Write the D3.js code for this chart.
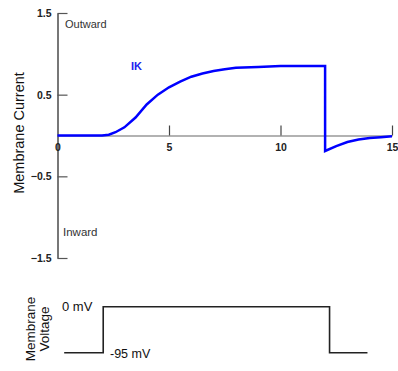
<!DOCTYPE html>
<html>
<head>
<meta charset="utf-8">
<script src="https://cdn.jsdelivr.net/npm/d3@7"></script>
<style>
  body { margin: 0; background: #fff; }
  svg { font-family: Arial, "Liberation Sans", sans-serif; }
  .tick text { font-weight: bold; font-size: 10.5px; fill: #222; }
</style>
</head>
<body>
<div id="chart"></div>
<script>
// current trace (IK) : time in ms, relative current
const timeK = [0, 2.0, 2.3, 2.6, 3.0, 3.5, 4.0, 4.5, 5.0, 5.5, 6.0, 6.5, 7.0, 7.5, 8.0, 9.0, 10.0, 11.0, 12.0,
  12.0, 12.5, 13.0, 13.5, 14.0, 14.5, 15.0];
const currentK = [0, 0, 0.01, 0.04, 0.10, 0.22, 0.38, 0.50, 0.59, 0.66, 0.72, 0.76, 0.79, 0.81, 0.83, 0.84, 0.85, 0.85, 0.85,
  -0.19, -0.13, -0.08, -0.05, -0.03, -0.02, -0.01];

// voltage protocol
const timeV = [0.3, 2.05, 2.05, 12.2, 12.2, 13.9];
const voltage = [-95, -95, 0, 0, -95, -95];

const xTicks = [0, 5, 10, 15];
const yTicks = [1.5, 0.5, -0.5, -1.5];

const W = 398, H = 371;
const svg = d3.select('#chart').append('svg')
  .attr('width', W)
  .attr('height', H);

const x = d3.scaleLinear([0, 15], [57.5, 392]);
const y = d3.scaleLinear([-1.5, 1.5], [258, 13]);
const yV = d3.scaleLinear([-95, 0], [352.7, 306.7]);

// y axis
const yAxis = d3.axisLeft(y)
  .tickValues(yTicks)
  .tickFormat(d3.format('.1f'))
  .tickSizeInner(-10)
  .tickSizeOuter(0)
  .tickPadding(6);
const gy = svg.append('g')
  .attr('transform', `translate(${x(0)},0)`)
  .call(yAxis);
gy.select('.domain').attr('stroke', '#777').attr('stroke-width', 2);
gy.selectAll('.tick line').attr('stroke', '#555').attr('stroke-width', 1.2);

// x axis
const xAxis = d3.axisBottom(x)
  .tickValues(xTicks)
  .tickSizeInner(-10)
  .tickSizeOuter(0)
  .tickPadding(8);
const gx = svg.append('g')
  .attr('transform', `translate(0,${y(0)})`)
  .call(xAxis);
gx.select('.domain').attr('stroke', '#666').attr('stroke-width', 1.2);
gx.selectAll('.tick line').attr('stroke', '#444').attr('stroke-width', 1.2);
gx.selectAll('.tick').filter(d => d === 0).select('line').remove();

// current trace
const line = d3.line()
  .x((d, i) => x(timeK[i]))
  .y(d => y(d));
svg.append('path')
  .datum(currentK)
  .attr('fill', 'none')
  .attr('stroke', '#0000ff')
  .attr('stroke-width', 2.5)
  .attr('d', line);

svg.append('text')
  .attr('x', 131).attr('y', 70)
  .attr('font-size', 11).attr('font-weight', 'bold')
  .attr('fill', '#2020ee')
  .text('IK');

svg.append('text')
  .attr('x', 65).attr('y', 28)
  .attr('font-size', 11).attr('fill', '#333')
  .text('Outward');
svg.append('text')
  .attr('x', 63).attr('y', 236)
  .attr('font-size', 11.5).attr('fill', '#333')
  .text('Inward');

svg.append('text')
  .attr('transform', 'translate(24,133) rotate(-90)')
  .attr('text-anchor', 'middle')
  .attr('font-size', 14.5).attr('fill', '#111')
  .text('Membrane Current');

// voltage trace
const vLine = d3.line()
  .x((d, i) => x(timeV[i]))
  .y(d => yV(d));
svg.append('path')
  .datum(voltage)
  .attr('fill', 'none')
  .attr('stroke', '#222')
  .attr('stroke-width', 1.6)
  .attr('d', vLine);

svg.append('text')
  .attr('x', 62).attr('y', 311)
  .attr('font-size', 13).attr('fill', '#111')
  .text('0 mV');
svg.append('text')
  .attr('x', 110).attr('y', 358)
  .attr('font-size', 12.5).attr('fill', '#111')
  .text('-95 mV');

svg.append('text')
  .attr('transform', 'translate(35,329) rotate(-90)')
  .attr('text-anchor', 'middle')
  .attr('font-size', 13.5).attr('fill', '#111')
  .text('Membrane');
svg.append('text')
  .attr('transform', 'translate(49,329) rotate(-90)')
  .attr('text-anchor', 'middle')
  .attr('font-size', 13.5).attr('fill', '#111')
  .text('Voltage');
</script>
</body>
</html>
